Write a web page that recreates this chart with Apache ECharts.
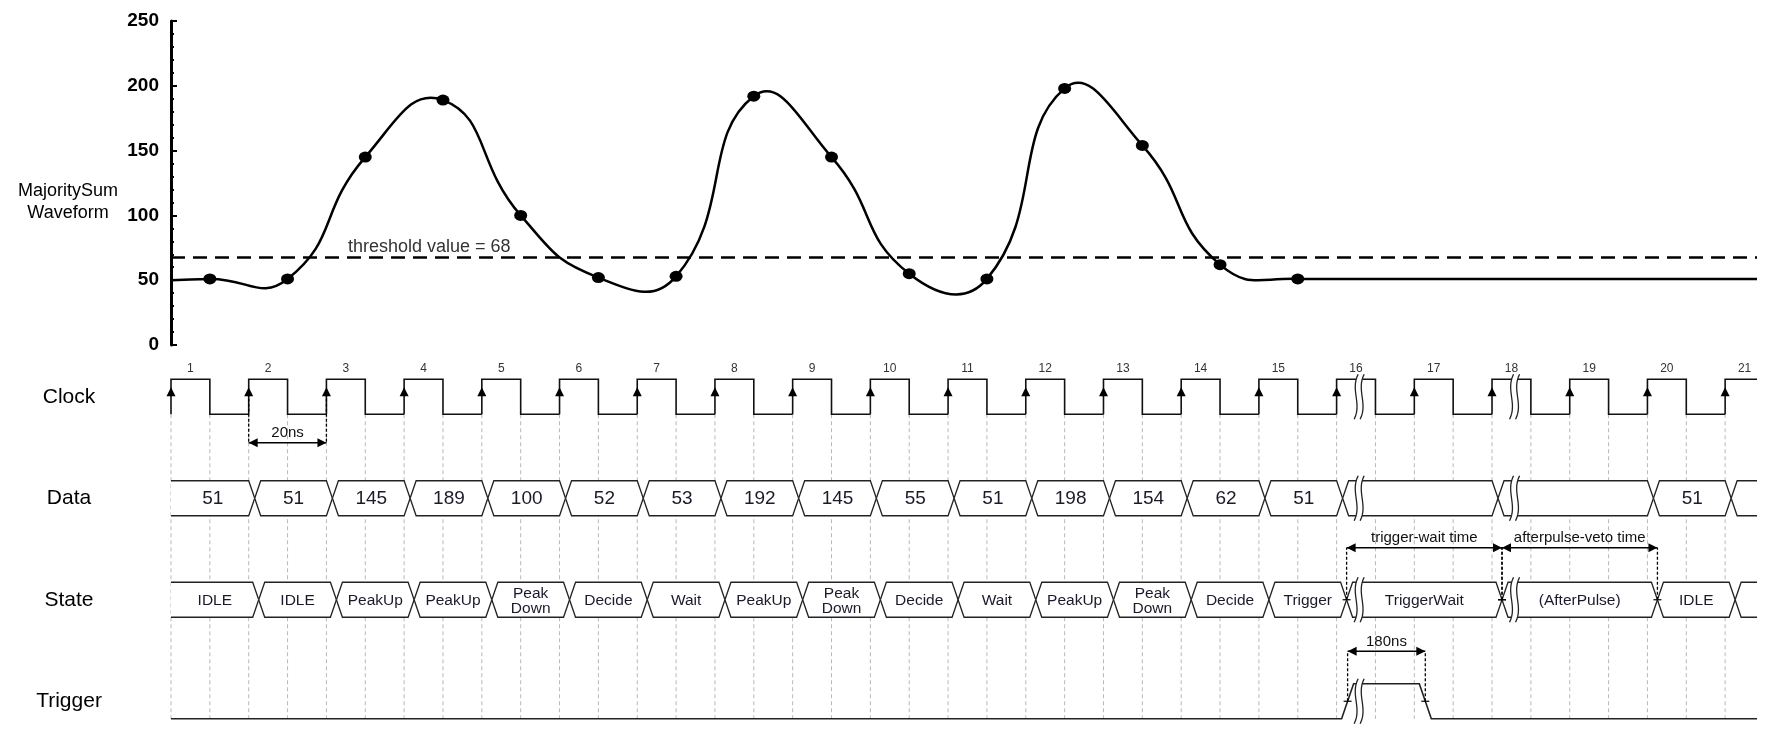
<!DOCTYPE html>
<html>
<head>
<meta charset="UTF-8">
<title>MajoritySum trigger timing</title>
<script src="https://cdn.jsdelivr.net/npm/echarts@6.0.0/dist/echarts.min.js"></script>
<style>
  html, body { margin: 0; padding: 0; background: #fff; }
  #main { width: 1776px; height: 754px; }
</style>
</head>
<body>
<div id="main"></div>
<script>
// ---- values ----
const rowNames = ['Clock', 'Data', 'State', 'Trigger'];
const clockLabels = ['1', '2', '3', '4', '5', '6', '7', '8', '9', '10', '11',
  '12', '13', '14', '15', '16', '17', '18', '19', '20', '21'];

// MajoritySum sampled on the falling edge of clocks 1..15
const sampleValues = [51, 51, 145, 189, 100, 52, 53, 192, 145, 55, 51, 198, 154, 62, 51];
const waveStart = 50;   // level before the first sample
const waveTail = 51;    // level after the last sample
const threshold = 68;
const yMin = 0, yMax = 250, yStep = 50;

// bus segments start at these clock numbers (each one runs to the next)
const busStarts = [1, 2, 3, 4, 5, 6, 7, 8, 9, 10, 11, 12, 13, 14, 15, 16, 18, 20, 21];
const dataBus = ['51', '51', '145', '189', '100', '52', '53', '192', '145', '55',
  '51', '198', '154', '62', '51', '', '', '51', ''];
const stateBus = ['IDLE', 'IDLE', 'PeakUp', 'PeakUp', 'Peak\nDown', 'Decide', 'Wait',
  'PeakUp', 'Peak\nDown', 'Decide', 'Wait', 'PeakUp', 'Peak\nDown', 'Decide', 'Trigger',
  'TriggerWait', '(AfterPulse)', 'IDLE', ''];

const breakClocks = [16, 18];   // time axis is cut inside these clock periods
const triggerBreaks = [16];
const triggerPulse = [16, 17];  // trigger high from clock 16 to clock 17

const spans = [
  { label: '20ns', from: 2, to: 3, row: 0 },
  { label: 'trigger-wait time', from: 16, to: 18, row: 2 },
  { label: 'afterpulse-veto time', from: 18, to: 20, row: 2 },
  { label: '180ns', from: 16, to: 17, row: 3 }
];

// ---- drawing constants ----
const FONT = '"Liberation Sans", Arial, sans-serif';
const xMax = 20.41;          // right edge of the drawing, in clock periods
const HH = 17.5;             // half height of a signal row (px)
const HW = 6;                // half width of a bus crossing (px)
const rowShift = [0, 6, 10, 11];     // crossing point after the clock edge, per row (px)
const spanLevel = [46, 0, -52, -50]; // dimension arrow position from row centre (px)
const SMOOTH = 0.5;

const chart = echarts.init(document.getElementById('main'));

// samples sit on the falling edge of their clock
const samplePts = sampleValues.map((v, i) => [i + 0.5, v]);
const curvePts = [[0, waveStart]].concat(samplePts, [[xMax, waveTail]]);

// cardinal-style bezier through the samples (line series would clamp the overshoot),
// the last stretch after the final sample is straight
function curveRender(params, api) {
  if (params.dataIndex !== 0) return null;
  const p = curvePts.map(d => api.coord(d));
  const n = p.length;
  const cpIn = [], cpOut = [];
  for (let i = 0; i < n; i++) {
    const prev = p[Math.max(i - 1, 0)], next = p[Math.min(i + 1, n - 1)];
    const vx = (next[0] - prev[0]) * SMOOTH, vy = (next[1] - prev[1]) * SMOOTH;
    let d0 = Math.hypot(p[i][0] - prev[0], p[i][1] - prev[1]);
    let d1 = Math.hypot(p[i][0] - next[0], p[i][1] - next[1]);
    const sum = d0 + d1;
    if (sum) { d0 /= sum; d1 /= sum; }
    cpIn.push(i === 0 || i === n - 1 ? p[i] : [p[i][0] - vx * d0, p[i][1] - vy * d0]);
    cpOut.push(i === 0 || i === n - 1 ? p[i] : [p[i][0] + vx * d1, p[i][1] + vy * d1]);
  }
  const style = { stroke: '#000', lineWidth: 2.5, fill: null };
  const children = [];
  for (let i = 0; i < n - 2; i++) {
    children.push({
      type: 'bezierCurve', style: style,
      shape: { x1: p[i][0], y1: p[i][1], cpx1: cpOut[i][0], cpy1: cpOut[i][1],
        cpx2: cpIn[i + 1][0], cpy2: cpIn[i + 1][1], x2: p[i + 1][0], y2: p[i + 1][1] }
    });
  }
  children.push({ type: 'line', style: style,
    shape: { x1: p[n - 2][0], y1: p[n - 2][1], x2: p[n - 1][0], y2: p[n - 1][1] } });
  return { type: 'group', children: children };
}

// every clock edge gets a grey guide line
const edgeData = [];
clockLabels.forEach((l, i) => {
  edgeData.push([i, 0]);
  if (i + 0.5 <= xMax) edgeData.push([i + 0.5, 0]);
});

function gridLines(params, api) {
  const t = api.value(0);
  const a = api.coord([t, 0]);
  const b = api.coord([t, 3]);
  return {
    type: 'line', silent: true,
    shape: { x1: a[0], y1: a[1] + HH, x2: a[0], y2: b[1] + HH },
    style: { stroke: '#b8b8b8', lineWidth: 1, lineDash: [4, 3] }
  };
}

function clockRender(params, api) {
  const t = api.value(0);
  const r = api.coord([t, 0]);
  const f = api.coord([t + 0.5, 0])[0];
  const n = api.coord([t + 1, 0])[0];
  const xe = api.coord([xMax, 0])[0];
  const yH = r[1] - HH, yL = r[1] + HH;
  const pts = [[r[0], yL], [r[0], yH]];
  if (f < xe) pts.push([f, yH], [f, yL], [Math.min(n, xe), yL]);
  else pts.push([xe, yH]);
  return {
    type: 'group',
    children: [
      { type: 'polyline', shape: { points: pts }, style: { stroke: '#111', lineWidth: 1.6, fill: null } },
      { type: 'polygon', shape: { points: [[r[0], yH + 8], [r[0] - 4.5, yH + 17], [r[0] + 4.5, yH + 17]] },
        style: { fill: '#000' } },
      { type: 'text', x: (r[0] + f) / 2, y: yH - 11,
        style: { text: clockLabels[params.dataIndex], fill: '#333', fontSize: 12, fontFamily: FONT,
          align: 'center', verticalAlign: 'middle' } }
    ]
  };
}

function busRender(labels, row, fontSize, lineHeight) {
  const off = rowShift[row];
  return function (params, api) {
    const i = params.dataIndex;
    const t0 = busStarts[i] - 1;
    const hasNext = i + 1 < busStarts.length;
    const c0 = api.coord([t0, row]);
    const yc = c0[1], yT = yc - HH, yB = yc + HH;
    const xe = api.coord([xMax, row])[0];
    let top, bot, xl, xr;
    if (t0 === 0) {
      xl = c0[0];
      top = [[xl, yT]]; bot = [[xl, yB]];
    } else {
      xl = c0[0] + off;
      top = [[xl, yc], [xl + HW, yT]]; bot = [[xl, yc], [xl + HW, yB]];
    }
    if (hasNext) {
      xr = api.coord([busStarts[i + 1] - 1, row])[0] + off;
      top.push([xr - HW, yT], [xr, yc]); bot.push([xr - HW, yB], [xr, yc]);
    } else {
      xr = xe;
      top.push([xr, yT]); bot.push([xr, yB]);
    }
    const children = [
      { type: 'polygon', shape: { points: top.concat(bot.slice().reverse()) }, style: { fill: '#fff' } },
      { type: 'polyline', shape: { points: top }, style: { stroke: '#222', lineWidth: 1.3, fill: null } },
      { type: 'polyline', shape: { points: bot }, style: { stroke: '#222', lineWidth: 1.3, fill: null } }
    ];
    if (labels[i]) {
      children.push({ type: 'text', x: (xl + xr) / 2, y: yc + 1,
        style: { text: labels[i], fill: '#1a1a2a', fontSize: fontSize, lineHeight: lineHeight,
          fontFamily: FONT, align: 'center', verticalAlign: 'middle' } });
    }
    return { type: 'group', children: children };
  };
}

function bezierPts(x, y0, y1) {
  const h = y1 - y0, out = [];
  const p = [[x + 2, y0], [x - 6, y0 + 0.35 * h], [x + 6, y0 + 0.65 * h], [x - 2, y1]];
  for (let k = 0; k <= 16; k++) {
    const s = k / 16, u = 1 - s;
    out.push([
      u * u * u * p[0][0] + 3 * u * u * s * p[1][0] + 3 * u * s * s * p[2][0] + s * s * s * p[3][0],
      u * u * u * p[0][1] + 3 * u * u * s * p[1][1] + 3 * u * s * s * p[2][1] + s * s * s * p[3][1]
    ]);
  }
  return out;
}

function breakRender(params, api) {
  const t = api.value(0), row = api.value(1);
  const c = api.coord([t + 0.29, row]);
  const y0 = c[1] - HH - 5, y1 = c[1] + HH + 5;
  const left = bezierPts(c[0] - 3, y0, y1);
  const right = bezierPts(c[0] + 3, y0, y1);
  return {
    type: 'group',
    children: [
      { type: 'polygon', shape: { points: left.concat(right.slice().reverse()) }, style: { fill: '#fff' } },
      { type: 'polyline', shape: { points: left }, style: { stroke: '#222', lineWidth: 1.3, fill: null } },
      { type: 'polyline', shape: { points: right }, style: { stroke: '#222', lineWidth: 1.3, fill: null } }
    ]
  };
}
const breakData = [];
breakClocks.forEach(c => {
  [0, 1, 2].forEach(r => breakData.push([c - 1, r]));
  if (triggerBreaks.indexOf(c) >= 0) breakData.push([c - 1, 3]);
});

function triggerRender(params, api) {
  const s = api.coord([0, 3]);
  const yc = s[1], yH = yc - HH, yL = yc + HH;
  const xr = api.coord([triggerPulse[0] - 1, 3])[0] + rowShift[3];
  const xf = api.coord([triggerPulse[1] - 1, 3])[0] + rowShift[3];
  const xe = api.coord([xMax, 3])[0];
  return {
    type: 'polyline',
    shape: { points: [[s[0], yL], [xr - HW, yL], [xr + HW, yH], [xf - HW, yH], [xf + HW, yL], [xe, yL]] },
    style: { stroke: '#222', lineWidth: 1.6, fill: null }
  };
}

function spanRender(params, api) {
  const sp = spans[params.dataIndex];
  const off = rowShift[sp.row];
  const a = api.coord([sp.from - 1, sp.row]);
  const x0 = a[0] + off;
  const x1 = api.coord([sp.to - 1, sp.row])[0] + off;
  const yc = a[1], ya = yc + spanLevel[sp.row];
  const gy = sp.row === 0 ? yc - 3 : yc;
  const dash = { stroke: '#000', lineWidth: 1.3, lineDash: [3, 2] };
  const children = [
    { type: 'line', shape: { x1: x0, y1: gy, x2: x0, y2: ya }, style: dash },
    { type: 'line', shape: { x1: x1, y1: gy, x2: x1, y2: ya }, style: dash },
    { type: 'line', shape: { x1: x0, y1: ya, x2: x1, y2: ya }, style: { stroke: '#000', lineWidth: 1.5 } },
    { type: 'polygon', shape: { points: [[x0, ya], [x0 + 9, ya - 4.5], [x0 + 9, ya + 4.5]] }, style: { fill: '#000' } },
    { type: 'polygon', shape: { points: [[x1, ya], [x1 - 9, ya - 4.5], [x1 - 9, ya + 4.5]] }, style: { fill: '#000' } },
    { type: 'text', x: (x0 + x1) / 2, y: ya - 2,
      style: { text: sp.label, fill: '#111', fontSize: 15, fontFamily: FONT, align: 'center', verticalAlign: 'bottom' } }
  ];
  if (sp.row !== 0) {
    children.push({ type: 'line', shape: { x1: x0 - 4, y1: yc, x2: x0 + 4, y2: yc }, style: { stroke: '#000', lineWidth: 1.2 } });
    children.push({ type: 'line', shape: { x1: x1 - 4, y1: yc, x2: x1 + 4, y2: yc }, style: { stroke: '#000', lineWidth: 1.2 } });
  }
  return { type: 'group', children: children };
}

const option = {
  animation: false,
  backgroundColor: '#fff',
  textStyle: { fontFamily: FONT },
  graphic: [{
    type: 'text', x: 68, y: 202, silent: true,
    style: { text: 'MajoritySum\nWaveform', fontSize: 18, lineHeight: 22, fill: '#000', fontFamily: FONT,
      align: 'center', verticalAlign: 'middle', textAlign: 'center', textVerticalAlign: 'middle' }
  }],
  grid: [
    { left: 171, right: 19, top: 21, height: 324 },
    { left: 171, right: 19, top: 346, height: 406 }
  ],
  xAxis: [
    { type: 'value', gridIndex: 0, min: 0, max: xMax, show: false },
    { type: 'value', gridIndex: 1, min: 0, max: xMax, show: false }
  ],
  yAxis: [
    {
      type: 'value', gridIndex: 0, min: yMin, max: yMax, interval: yStep,
      axisLine: { show: true, lineStyle: { color: '#000', width: 3 } },
      axisTick: { show: true, inside: true, length: 6, lineStyle: { color: '#000', width: 2 } },
      minorTick: { show: true, splitNumber: 5, length: 3, lineStyle: { color: '#000', width: 2 } },
      splitLine: { show: false },
      axisLabel: { color: '#000', fontSize: 19, fontWeight: 'bold', margin: 12 }
    },
    {
      type: 'category', gridIndex: 1, data: rowNames, inverse: true,
      axisLine: { show: false }, axisTick: { show: false }, splitLine: { show: false },
      axisLabel: { color: '#000', fontSize: 21, align: 'center', margin: 102 }
    }
  ],
  series: [
    { type: 'custom', xAxisIndex: 0, yAxisIndex: 0, data: curvePts, renderItem: curveRender,
      z: 2, silent: true, clip: false },
    {
      type: 'scatter', xAxisIndex: 0, yAxisIndex: 0, data: samplePts,
      symbol: 'circle', symbolSize: [13, 11],
      itemStyle: { color: '#000', opacity: 1 },
      silent: true, z: 3,
      markLine: {
        silent: true, symbol: ['none', 'none'],
        lineStyle: { color: '#000', width: 2.5, type: [14, 8] },
        label: { show: true, position: 'insideStartTop', formatter: 'threshold value = {c}',
          color: '#333', fontSize: 18, padding: [0, 0, 0, 176], distance: 1 },
        data: [{ yAxis: threshold }]
      }
    },
    { type: 'custom', xAxisIndex: 1, yAxisIndex: 1, data: edgeData, renderItem: gridLines, z: 1, silent: true },
    { type: 'custom', xAxisIndex: 1, yAxisIndex: 1, data: busStarts.map(c => [c - 1, 1]),
      renderItem: busRender(dataBus, 1, 19, 20), z: 2, silent: true },
    { type: 'custom', xAxisIndex: 1, yAxisIndex: 1, data: busStarts.map(c => [c - 1, 2]),
      renderItem: busRender(stateBus, 2, 15.5, 15), z: 2, silent: true },
    { type: 'custom', xAxisIndex: 1, yAxisIndex: 1, data: clockLabels.map((l, i) => [i, 0]),
      renderItem: clockRender, z: 3, silent: true },
    { type: 'custom', xAxisIndex: 1, yAxisIndex: 1, data: [[triggerPulse[0] - 1, 3]],
      renderItem: triggerRender, z: 3, silent: true },
    { type: 'custom', xAxisIndex: 1, yAxisIndex: 1, data: breakData, renderItem: breakRender, z: 4, silent: true },
    { type: 'custom', xAxisIndex: 1, yAxisIndex: 1, data: spans.map(s => [s.from - 1, s.row]),
      renderItem: spanRender, z: 5, silent: true }
  ]
};

chart.setOption(option);
</script>
</body>
</html>
